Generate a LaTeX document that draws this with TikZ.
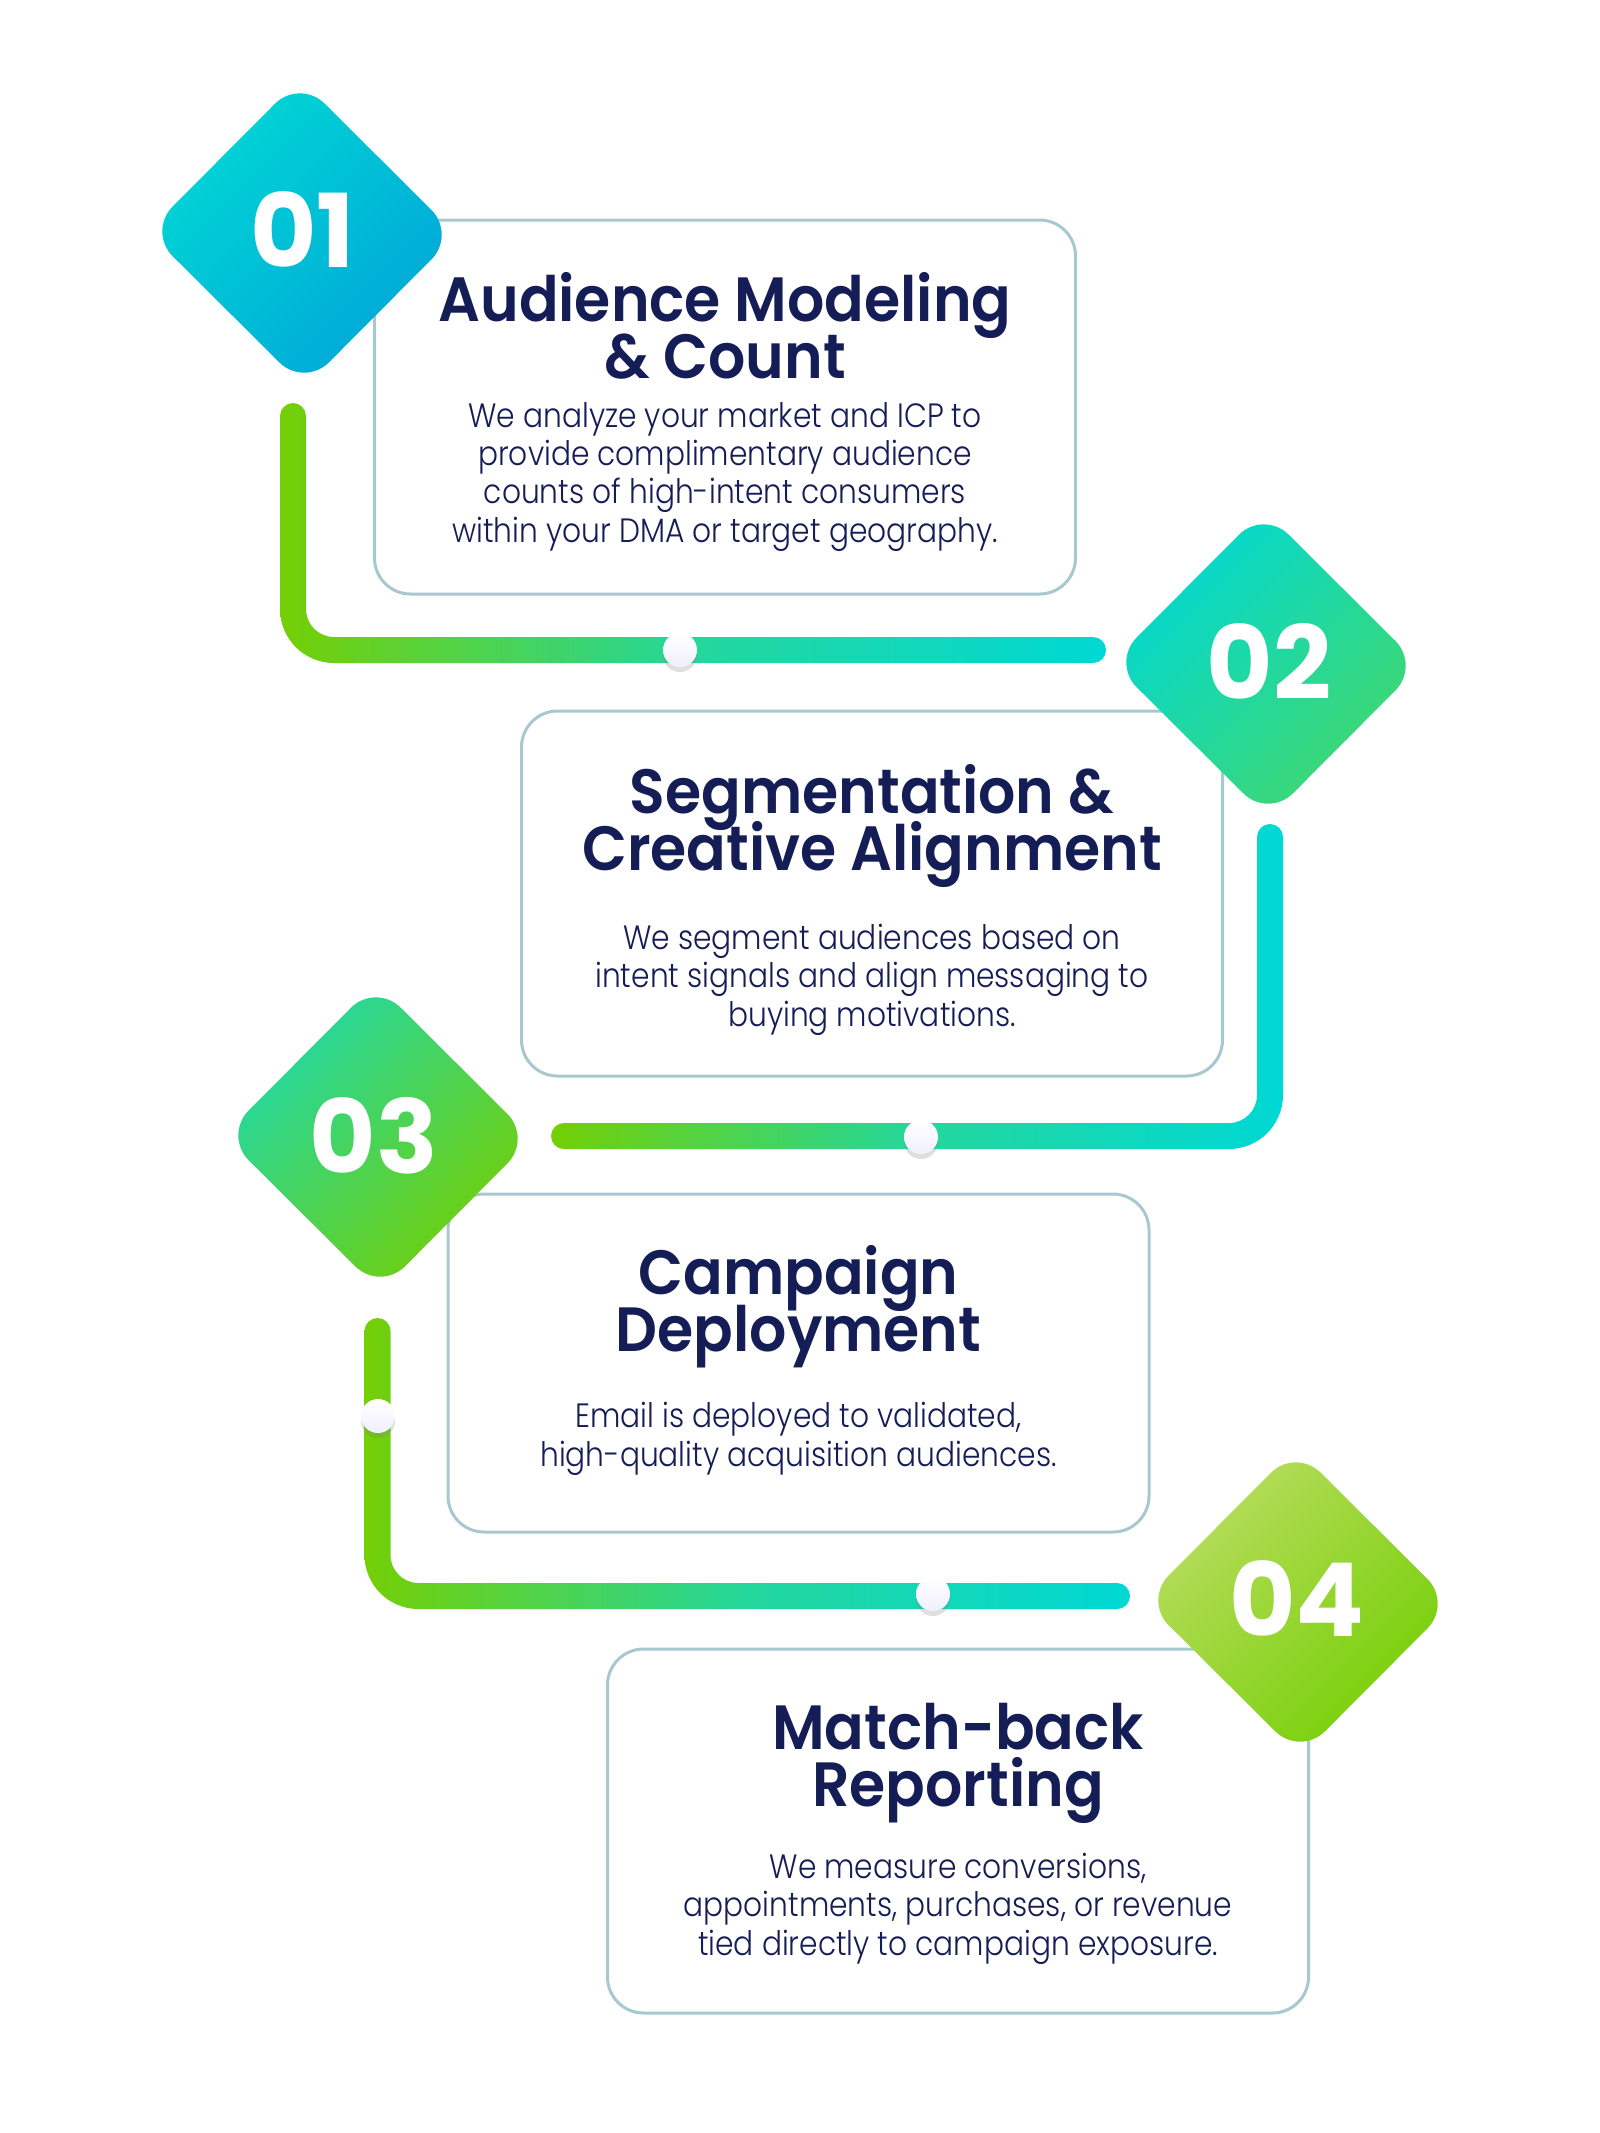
\documentclass[tikz,border=0pt]{standalone}
\usepackage{fontspec}
\usepackage{xcolor}
\usetikzlibrary{shadows,calc,positioning}

\newfontfamily\headfont[FakeStretch=0.935]{Poppins SemiBold}
\newfontfamily\copyfont[FakeStretch=0.88]{Poppins Light}
\newfontfamily\numfont{Poppins Bold}
\newcommand{\tightlines}{\setlength{\lineskiplimit}{-100pt}}

\definecolor{inkblue}{HTML}{141D55}
\definecolor{cardline}{HTML}{A8C8D0}
\definecolor{railgreen}{HTML}{74CF05}
\definecolor{railmid}{HTML}{24D79C}
\definecolor{railcyan}{HTML}{00D8D4}
\definecolor{badgeblue}{HTML}{00A6D8}
\definecolor{badgemint}{HTML}{42D86C}
\definecolor{badgeteal}{HTML}{20D8A8}
\definecolor{badgelime}{HTML}{BADD60}

\tikzset{
  card/.style={draw=cardline,line width=0.3mm,fill=white,rounded corners=3.6mm,minimum width=70.1mm,inner sep=0pt},
  badge/.style={rectangle,rounded corners=3.5mm,minimum width=21.8mm,minimum height=21.8mm,
    xslant=-0.0146,yslant=-0.01,rotate=-45,inner sep=0pt},
  badgenum/.style={text=white,font=\numfont\fontsize{29}{29}\selectfont,inner sep=0pt},
  headtext/.style={text=inkblue,align=center,anchor=base,inner sep=0pt,
    font=\headfont\fontsize{17.8}{16.1}\selectfont\tightlines},
  copytext/.style={text=inkblue,align=center,anchor=base,inner sep=0pt,
    font=\copyfont\fontsize{9.6}{10.9}\selectfont\tightlines},
  knob/.style={circle,minimum size=3.4mm,inner sep=0pt,top color=white,bottom color=black!6!blue!6!white,
    drop shadow={shadow xshift=0mm,shadow yshift=-0.5mm,opacity=0.25}},
  rail/.style={left color=railgreen,right color=railcyan,middle color=railmid}
}

% #1 free end of the upright, #2 free end of the bar, #3 side the bar runs to (1 or -1)
\newcommand{\railshape}[3]{
  \shade [rail] ($(#1)+({#3*(-13)},0)$)
    arc [start angle={90+#3*90},end angle={90+#3*270},radius=13]
    -- ($(#1 |- #2)+({#3*13},-41)$)
    arc [start angle={90+#3*90},end angle=90,radius=28]
    -- ($(#2)+(0,-13)$)
    arc [start angle=-90,end angle={-90+#3*180},radius=13]
    -- ($(#1 |- #2)+({#3*41},13)$)
    arc [start angle=90,end angle={90+#3*90},radius=54]
    -- cycle;
}

\begin{document}
\begin{tikzpicture}[x=0.1mm,y=-0.1mm]
  \useasboundingbox (0,0) rectangle (1600,2133);

  \node [card,minimum height=37.4mm] (card1) at (725,407) {};
  \node [card,minimum height=36.5mm] (card2) at (872,893.5) {};
  \node [card,minimum height=33.8mm] (card3) at (798.5,1363) {};
  \node [card,minimum height=36.4mm] (card4) at (958,1831) {};

  % Rails between the badges
  \coordinate (rail1top) at (293,416);
  \coordinate (rail1end) at (1093,650);
  \railshape{rail1top}{rail1end}{1}
  \coordinate (rail2top) at (1270,837);
  \coordinate (rail2end) at (564,1136);
  \railshape{rail2top}{rail2end}{-1}
  \coordinate (rail3top) at (377.5,1331);
  \coordinate (rail3end) at (1117,1596);
  \railshape{rail3top}{rail3end}{1}

  \node [knob] (knob1) at (680,650) {};
  \node [knob] (knob2) at (921,1137) {};
  \node [knob] (knob3) at (378,1416) {};
  \node [knob] (knob4) at (933,1594) {};

  \node [badge,left color=railcyan,right color=badgeblue,shading angle=45] (badge1) at (302,233) {};
  \node [badge,left color=railcyan,right color=badgemint,shading angle=45] (badge2) at (1266,664) {};
  \node [badge,left color=badgeteal,right color=railgreen,shading angle=45] (badge3) at (378,1137) {};
  \node [badge,left color=badgelime,right color=railgreen,shading angle=45] (badge4) at (1298,1602) {};

  \node [badgenum] (num1) at (302.5,230) {01};
  \node [badgenum] (num2) at (1269,661) {02};
  \node [badgenum] (num3) at (374,1136) {03};
  \node [badgenum] (num4) at (1297,1599) {04};

  \node [headtext] (head1) at (725,378.5) {Audience Modeling\\\& Count};
  \node [copytext] (copy1) at (725,542) {We analyze your market and ICP to\\provide complimentary audience\\counts of high-intent consumers\\within your DMA or target geography.};

  \node [headtext] (head2) at (872,870) {Segmentation \&\\Creative Alignment};
  \node [copytext] (copy2) at (872,1026) {We segment audiences based on\\intent signals and align messaging to\\buying motivations.};

  \node [headtext] (head3) at (798.5,1351.5) {Campaign\\Deployment};
  \node [copytext] (copy3) at (798.5,1466) {Email is deployed to validated,\\high-quality acquisition audiences.};

  \node [headtext] (head4) at (958,1806) {Match-back\\Reporting};
  \node [copytext] (copy4) at (958,1955) {We measure conversions,\\appointments, purchases, or revenue\\tied directly to campaign exposure.};
\end{tikzpicture}
\end{document}
